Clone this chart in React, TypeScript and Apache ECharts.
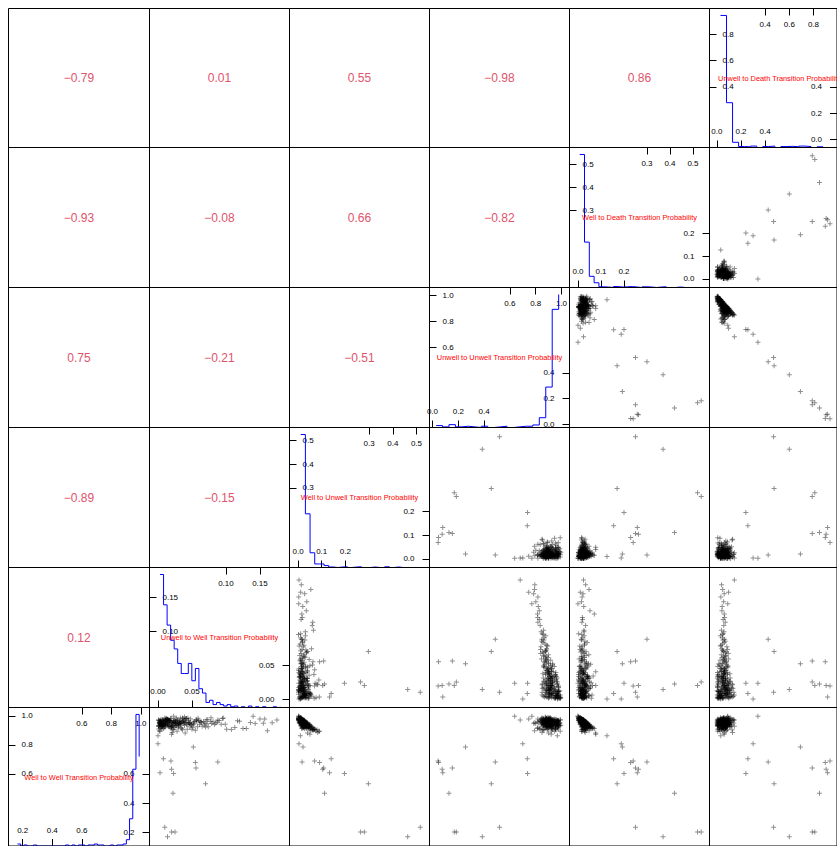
import React, { useEffect, useRef } from "react";
import * as echarts from "echarts";

// Variable order along the diagonal (bottom-left to top-right)
const variableNames = [
  "Well to Well Transition Probability",
  "Unwell to Well Transition Probability",
  "Well to Unwell Transition Probability",
  "Unwell to Unwell Transition Probability",
  "Well to Death Transition Probability",
  "Unwell to Death Transition Probability",
];

// Posterior samples of each transition probability
const wellToWell = [
  0.965, 0.966, 0.958, 0.952, 0.957, 0.985, 0.936, 0.944, 0.957, 0.974,
  0.936, 0.94, 0.966, 0.962, 0.93, 0.956, 0.949, 0.982, 0.926, 0.96,
  0.929, 0.925, 0.95, 0.959, 0.957, 0.965, 0.922, 0.972, 0.926, 0.943,
  0.975, 0.952, 0.948, 0.918, 0.909, 0.969, 0.948, 0.938, 0.971, 0.963,
  0.914, 0.968, 0.934, 0.925, 0.967, 0.936, 0.961, 0.957, 0.942, 0.953,
  0.909, 0.937, 0.973, 0.946, 0.955, 0.911, 0.979, 0.916, 0.951, 0.968,
  0.954, 0.929, 0.959, 0.907, 0.975, 0.949, 0.938, 0.979, 0.929, 0.962,
  0.957, 0.926, 0.95, 0.913, 0.962, 0.93, 0.962, 0.963, 0.898, 0.958,
  0.941, 0.986, 0.93, 0.922, 0.966, 0.948, 0.941, 0.972, 0.946, 0.942,
  0.921, 0.955, 0.968, 0.941, 0.932, 0.974, 0.955, 0.913, 0.96, 0.919,
  0.96, 0.948, 0.943, 0.958, 0.953, 0.941, 0.917, 0.947, 0.942, 0.95,
  0.946, 0.963, 0.904, 0.931, 0.968, 0.952, 0.952, 0.924, 0.971, 0.95,
  0.2, 0.2, 0.468, 0.167, 0.683, 0.234, 0.642, 0.609, 0.68, 0.604,
  0.808, 0.705, 0.533, 0.786, 0.864, 0.873, 0.883, 0.997, 0.972, 0.69,
  0.633, 0.997, 0.979, 0.895,
  0.971, 0.967, 0.947, 0.985, 0.939, 0.982, 0.93, 0.977, 0.95, 0.959,
  0.908, 0.958, 0.973, 0.974, 0.918, 0.967, 0.984, 0.942, 0.931, 0.937,
  0.955, 0.986, 0.948, 0.949, 0.965, 0.886, 0.957, 0.957, 0.98, 0.937,
  0.974, 0.921, 0.929, 0.975, 0.966, 0.962, 0.956, 0.902, 0.977, 0.928,
  0.986, 0.937, 0.954, 0.987, 0.927, 0.964, 0.938, 0.916, 0.969, 0.975,
  0.949, 0.945, 0.984, 0.896, 0.952, 0.95, 0.972, 0.933, 0.97, 0.941,
  0.966, 0.938, 0.992, 0.935, 0.936, 0.956, 0.968, 0.894, 0.951, 0.986,
  0.943, 0.98, 0.912, 0.964, 0.958, 0.945, 0.961, 0.971, 0.908, 0.972,
  0.935, 0.947, 0.971, 0.974, 0.934, 0.931, 0.983, 0.946, 0.91, 0.946,
  0.982, 0.955, 0.927, 0.972, 0.925, 0.969, 0.954, 0.905, 0.949, 0.981,
];
const unwellToWell = [
  0.004, 0.011, 0.019, 0.007, 0.025, 0.033, 0.002, 0.015, 0.041, 0.028,
  0.009, 0.052, 0.017, 0.036, 0.006, 0.063, 0.022, 0.013, 0.047, 0.031,
  0.001, 0.074, 0.038, 0.01, 0.026, 0.057, 0.005, 0.088, 0.02, 0.044,
  0.014, 0.069, 0.003, 0.034, 0.101, 0.024, 0.012, 0.049, 0.029, 0.081,
  0.008, 0.06, 0.039, 0.016, 0.117, 0.027, 0.054, 0.003, 0.093, 0.021,
  0.043, 0.012, 0.071, 0.031, 0.136, 0.006, 0.048, 0.018, 0.085, 0.037,
  0.002, 0.065, 0.023, 0.108, 0.014, 0.046, 0.009, 0.15, 0.03, 0.077,
  0.019, 0.058, 0.005, 0.125, 0.035, 0.011, 0.067, 0.026, 0.161, 0.04,
  0.004, 0.096, 0.022, 0.051, 0.015, 0.143, 0.033, 0.007, 0.072, 0.029,
  0.113, 0.045, 0.017, 0.083, 0.001, 0.056, 0.024, 0.13, 0.038, 0.01,
  0.062, 0.032, 0.099, 0.013, 0.168, 0.042, 0.02, 0.079, 0.008, 0.053,
  0.027, 0.12, 0.036, 0.016, 0.09, 0.047, 0.003, 0.07, 0.025, 0.155,
  0.025, 0.02, 0.022, 0.014, 0.088, 0.01, 0.056, 0.003, 0.055, 0.023,
  0.0, 0.008, 0.07, 0.052, 0.0, 0.02, 0.04, 0.023, 0.175, 0.019,
  0.02, 0.14, 0.157, 0.003,
  0.006, 0.018, 0.003, 0.027, 0.011, 0.042, 0.001, 0.015, 0.034, 0.008,
  0.023, 0.052, 0.004, 0.013, 0.03, 0.002, 0.019, 0.061, 0.007, 0.025,
  0.038, 0.01, 0.003, 0.047, 0.016, 0.021, 0.005, 0.032, 0.012, 0.068,
  0.001, 0.024, 0.009, 0.04, 0.017, 0.003, 0.029, 0.055, 0.011, 0.006,
  0.036, 0.014, 0.002, 0.078, 0.02, 0.008, 0.031, 0.004, 0.045, 0.013,
  0.022, 0.009, 0.059, 0.002, 0.017, 0.033, 0.006, 0.026, 0.012, 0.049,
  0.003, 0.02, 0.039, 0.007, 0.015, 0.087, 0.001, 0.028, 0.01, 0.044,
  0.005, 0.019, 0.035, 0.012, 0.064, 0.002, 0.023, 0.008, 0.05, 0.016,
  0.004, 0.03, 0.011, 0.073, 0.021, 0.006, 0.041, 0.014, 0.001, 0.026,
  0.095, 0.009, 0.018, 0.057, 0.003, 0.032, 0.013, 0.022, 0.007, 0.037,
];
const wellToUnwell = [
  0.014, 0.022, 0.009, 0.031, 0.017, 0.012, 0.026, 0.041, 0.019, 0.007,
  0.035, 0.015, 0.023, 0.011, 0.048, 0.028, 0.016, 0.005, 0.033, 0.02,
  0.013, 0.057, 0.025, 0.01, 0.038, 0.018, 0.029, 0.014, 0.044, 0.021,
  0.002, 0.036, 0.024, 0.016, 0.065, 0.012, 0.03, 0.019, 0.027, 0.009,
  0.052, 0.017, 0.034, 0.022, 0.013, 0.04, 0.026, 0.006, 0.031, 0.018,
  0.07, 0.023, 0.011, 0.036, 0.02, 0.028, 0.015, 0.045, 0.019, 0.01,
  0.032, 0.024, 0.014, 0.06, 0.021, 0.017, 0.039, 0.003, 0.027, 0.022,
  0.012, 0.047, 0.03, 0.016, 0.025, 0.034, 0.013, 0.02, 0.054, 0.018,
  0.029, 0.011, 0.042, 0.023, 0.015, 0.037, 0.021, 0.002, 0.033, 0.026,
  0.062, 0.016, 0.028, 0.019, 0.043, 0.012, 0.024, 0.035, 0.017, 0.05,
  0.022, 0.01, 0.031, 0.027, 0.014, 0.039, 0.02, 0.025, 0.046, 0.013,
  0.03, 0.018, 0.067, 0.023, 0.011, 0.032, 0.021, 0.041, 0.016, 0.028,
  0.264, 0.28, 0.112, 0.463, 0.017, 0.516, 0.108, 0.133, 0.091, 0.196,
  0.004, 0.14, 0.297, 0.021, 0.01, 0.05, 0.04, 0.003, 0.004, 0.07,
  0.104, 0.003, 0.011, 0.09,
  0.018, 0.006, 0.034, 0.011, 0.025, 0.003, 0.046, 0.015, 0.009, 0.028,
  0.072, 0.012, 0.021, 0.004, 0.038, 0.016, 0.007, 0.03, 0.055, 0.013,
  0.024, 0.002, 0.019, 0.041, 0.01, 0.083, 0.027, 0.005, 0.017, 0.036,
  0.008, 0.022, 0.049, 0.014, 0.003, 0.031, 0.02, 0.063, 0.009, 0.026,
  0.012, 0.044, 0.017, 0.005, 0.033, 0.023, 0.01, 0.058, 0.015, 0.002,
  0.039, 0.021, 0.011, 0.076, 0.028, 0.006, 0.018, 0.035, 0.013, 0.05,
  0.008, 0.024, 0.004, 0.042, 0.016, 0.029, 0.011, 0.088, 0.019, 0.003,
  0.032, 0.014, 0.047, 0.022, 0.007, 0.037, 0.012, 0.026, 0.061, 0.009,
  0.02, 0.04, 0.005, 0.017, 0.03, 0.052, 0.01, 0.025, 0.068, 0.015,
  0.002, 0.034, 0.019, 0.008, 0.045, 0.023, 0.013, 0.08, 0.027, 0.006,
];
const unwellToUnwell = [
  0.969, 0.973, 0.914, 0.912, 0.931, 0.908, 0.994, 0.893, 0.923, 0.899,
  0.958, 0.9, 0.977, 0.876, 0.977, 0.88, 0.969, 0.883, 0.884, 0.966,
  0.949, 0.885, 0.909, 0.927, 0.862, 0.916, 0.971, 0.848, 0.895, 0.923,
  0.951, 0.853, 0.902, 0.919, 0.861, 0.91, 0.986, 0.86, 0.916, 0.873,
  0.921, 0.878, 0.956, 0.901, 0.831, 0.934, 0.873, 0.966, 0.878, 0.881,
  0.893, 0.975, 0.878, 0.892, 0.82, 0.954, 0.944, 0.933, 0.846, 0.855,
  0.987, 0.898, 0.917, 0.835, 0.912, 0.911, 0.904, 0.817, 0.918, 0.841,
  0.977, 0.886, 0.957, 0.814, 0.894, 0.943, 0.839, 0.96, 0.791, 0.898,
  0.878, 0.851, 0.933, 0.87, 0.918, 0.801, 0.96, 0.964, 0.881, 0.882,
  0.817, 0.923, 0.907, 0.856, 0.987, 0.886, 0.875, 0.828, 0.897, 0.969,
  0.863, 0.925, 0.842, 0.906, 0.793, 0.89, 0.923, 0.886, 0.899, 0.898,
  0.902, 0.816, 0.954, 0.922, 0.866, 0.869, 0.952, 0.876, 0.928, 0.784,
  0.185, 0.169, 0.128, 0.386, 0.487, 0.52, 0.154, 0.08, 0.047, 0.737,
  0.7, 0.735, 0.456, 0.256, 0.968, 0.92, 0.9, 0.637, 0.68, 0.044,
  0.075, 0.77, 0.746, 0.99,
  0.923, 0.948, 0.895, 0.915, 0.98, 0.881, 0.954, 0.862, 0.945, 0.926,
  0.889, 0.932, 0.859, 0.936, 0.898, 0.97, 0.884, 0.896, 0.91, 0.969,
  0.903, 0.876, 0.978, 0.861, 0.944, 0.849, 0.933, 0.933, 0.909, 0.864,
  0.99, 0.929, 0.885, 0.935, 0.918, 0.908, 0.959, 0.864, 0.958, 0.849,
  0.91, 0.886, 0.941, 0.893, 0.905, 0.969, 0.859, 0.958, 0.892, 0.901,
  0.963, 0.939, 0.845, 0.924, 0.865, 0.926, 0.991, 0.905, 0.896, 0.915,
  0.869, 0.925, 0.874, 0.976, 0.915, 0.863, 0.9, 0.946, 0.85, 0.898,
  0.962, 0.897, 0.954, 0.881, 0.863, 0.949, 0.883, 0.932, 0.93, 0.851,
  0.918, 0.924, 0.975, 0.838, 0.915, 0.873, 0.92, 0.914, 0.975, 0.871,
  0.858, 0.906, 0.975, 0.877, 0.886, 0.915, 0.95, 0.852, 0.903, 0.902,
];
const wellToDeath = [
  0.021, 0.012, 0.033, 0.017, 0.026, 0.003, 0.038, 0.015, 0.024, 0.019,
  0.029, 0.045, 0.011, 0.027, 0.022, 0.016, 0.035, 0.013, 0.041, 0.02,
  0.058, 0.018, 0.025, 0.031, 0.005, 0.017, 0.049, 0.014, 0.03, 0.036,
  0.023, 0.012, 0.028, 0.066, 0.026, 0.019, 0.022, 0.043, 0.002, 0.028,
  0.034, 0.015, 0.032, 0.053, 0.02, 0.024, 0.013, 0.037, 0.027, 0.029,
  0.021, 0.04, 0.016, 0.018, 0.025, 0.061, 0.006, 0.039, 0.03, 0.022,
  0.014, 0.047, 0.027, 0.033, 0.004, 0.034, 0.023, 0.018, 0.044, 0.016,
  0.031, 0.027, 0.02, 0.071, 0.013, 0.036, 0.025, 0.017, 0.048, 0.024,
  0.03, 0.003, 0.028, 0.055, 0.019, 0.015, 0.038, 0.026, 0.021, 0.032,
  0.017, 0.029, 0.004, 0.04, 0.025, 0.014, 0.021, 0.052, 0.023, 0.031,
  0.018, 0.042, 0.026, 0.015, 0.033, 0.02, 0.063, 0.028, 0.012, 0.037,
  0.024, 0.019, 0.029, 0.046, 0.021, 0.016, 0.027, 0.035, 0.013, 0.022,
  0.536, 0.52, 0.42, 0.37, 0.3, 0.25, 0.25, 0.258, 0.229, 0.2,
  0.188, 0.155, 0.17, 0.193, 0.126, 0.077, 0.077, 0.0, 0.024, 0.24,
  0.263, 0.0, 0.01, 0.015,
  0.011, 0.027, 0.019, 0.004, 0.036, 0.015, 0.024, 0.008, 0.041, 0.013,
  0.02, 0.03, 0.006, 0.022, 0.044, 0.017, 0.009, 0.028, 0.014, 0.05,
  0.021, 0.012, 0.033, 0.01, 0.025, 0.031, 0.016, 0.038, 0.003, 0.027,
  0.018, 0.057, 0.022, 0.011, 0.031, 0.007, 0.024, 0.035, 0.014, 0.046,
  0.002, 0.019, 0.029, 0.008, 0.04, 0.013, 0.052, 0.026, 0.016, 0.023,
  0.012, 0.034, 0.005, 0.028, 0.02, 0.044, 0.01, 0.032, 0.017, 0.009,
  0.026, 0.038, 0.004, 0.023, 0.048, 0.015, 0.021, 0.018, 0.03, 0.011,
  0.025, 0.006, 0.041, 0.014, 0.035, 0.018, 0.027, 0.003, 0.031, 0.019,
  0.045, 0.013, 0.024, 0.009, 0.036, 0.017, 0.007, 0.029, 0.022, 0.039,
  0.016, 0.011, 0.054, 0.02, 0.03, 0.008, 0.033, 0.015, 0.024, 0.013,
];
const unwellToDeath = [
  0.027, 0.016, 0.067, 0.081, 0.044, 0.059, 0.004, 0.092, 0.036, 0.073,
  0.033, 0.048, 0.006, 0.088, 0.017, 0.057, 0.009, 0.104, 0.069, 0.003,
  0.05, 0.041, 0.053, 0.063, 0.112, 0.027, 0.024, 0.064, 0.085, 0.033,
  0.035, 0.078, 0.095, 0.047, 0.038, 0.066, 0.002, 0.091, 0.055, 0.046,
  0.071, 0.062, 0.005, 0.083, 0.052, 0.039, 0.073, 0.031, 0.029, 0.098,
  0.064, 0.013, 0.051, 0.077, 0.044, 0.04, 0.008, 0.049, 0.069, 0.108,
  0.011, 0.037, 0.06, 0.057, 0.074, 0.043, 0.087, 0.033, 0.052, 0.082,
  0.004, 0.056, 0.038, 0.061, 0.071, 0.046, 0.094, 0.014, 0.048, 0.062,
  0.118, 0.053, 0.045, 0.079, 0.067, 0.056, 0.007, 0.029, 0.047, 0.089,
  0.07, 0.032, 0.076, 0.061, 0.012, 0.058, 0.101, 0.042, 0.065, 0.021,
  0.075, 0.043, 0.059, 0.081, 0.039, 0.068, 0.057, 0.035, 0.093, 0.049,
  0.071, 0.064, 0.01, 0.062, 0.044, 0.084, 0.045, 0.054, 0.047, 0.061,
  0.79, 0.811, 0.85, 0.6, 0.425, 0.47, 0.79, 0.917, 0.898, 0.24,
  0.3, 0.257, 0.474, 0.692, 0.032, 0.06, 0.06, 0.34, 0.145, 0.937,
  0.905, 0.09, 0.097, 0.007,
  0.071, 0.034, 0.102, 0.058, 0.009, 0.077, 0.045, 0.123, 0.021, 0.066,
  0.088, 0.016, 0.137, 0.051, 0.072, 0.028, 0.097, 0.043, 0.083, 0.006,
  0.059, 0.114, 0.019, 0.092, 0.04, 0.13, 0.062, 0.035, 0.079, 0.068,
  0.009, 0.047, 0.106, 0.025, 0.065, 0.089, 0.012, 0.081, 0.031, 0.145,
  0.054, 0.1, 0.057, 0.029, 0.075, 0.023, 0.11, 0.038, 0.063, 0.086,
  0.015, 0.052, 0.096, 0.074, 0.118, 0.041, 0.003, 0.069, 0.092, 0.036,
  0.128, 0.055, 0.087, 0.017, 0.07, 0.05, 0.099, 0.026, 0.14, 0.058,
  0.033, 0.084, 0.011, 0.107, 0.073, 0.049, 0.094, 0.06, 0.02, 0.133,
  0.078, 0.046, 0.014, 0.089, 0.064, 0.121, 0.039, 0.072, 0.024, 0.103,
  0.047, 0.085, 0.007, 0.066, 0.111, 0.053, 0.037, 0.126, 0.09, 0.061,
];
const samples = [wellToWell, unwellToWell, wellToUnwell, unwellToUnwell, wellToDeath, unwellToDeath];

// Pairwise correlations, one row per variable against the earlier ones
const corrUnwellToWell = [0.12];
const corrWellToUnwell = [-0.89, -0.15];
const corrUnwellToUnwell = [0.75, -0.21, -0.51];
const corrWellToDeath = [-0.93, -0.08, 0.66, -0.82];
const corrUnwellToDeath = [-0.79, 0.01, 0.55, -0.98, 0.86];
const correlations: number[][] = [[], corrUnwellToWell, corrWellToUnwell, corrUnwellToUnwell, corrWellToDeath, corrUnwellToDeath];

// Histogram of each variable: first break, bin width, counts per bin
const histStart = [0.165, 0.003, 0.0114, 0.028, 0.0074, 0.03];
const histWidth = [0.02166, 0.0052, 0.0197, 0.05, 0.0209, 0.05];
const wellToWellHist = [6, 0, 3, 0, 0, 3, 0, 0, 0, 0, 0, 0, 0, 0, 0, 3, 0, 3, 0, 3, 3, 0, 3, 3, 6, 3, 3, 0, 0, 3, 0, 3, 3, 6, 19, 82, 231, 396, 269];
const unwellToWellHist = [184, 142, 114, 93, 81, 61, 47, 47, 61, 37, 54, 26, 20, 7, 10, 4, 7, 4, 2, 4, 1, 2, 0, 1, 0, 2, 0, 1, 0, 1, 0, 0, 1, 0, 1];
const wellToUnwellHist = [560, 226, 62, 15, 15, 8, 2, 0, 2, 3, 0, 2, 3, 0, 0, 2, 0, 0, 3, 0, 2, 0, 0, 0, 0, 2];
const unwellToUnwellHist = [6, 2, 9, 2, 4, 2, 0, 4, 0, 2, 4, 0, 2, 4, 4, 8, 31, 128, 374, 421];
const wellToDeathHist = [560, 191, 47, 20, 3, 2, 0, 4, 2, 3, 4, 2, 0, 3, 2, 0, 2, 3, 0, 0, 2, 0, 0, 0, 0, 2];
const unwellToDeathHist = [560, 190, 22, 4, 3, 6, 0, 4, 6, 0, 4, 5, 3, 6, 4, 0, 3, 5];
const histCounts = [wellToWellHist, unwellToWellHist, wellToUnwellHist, unwellToUnwellHist, wellToDeathHist, unwellToDeathHist];

// Axis extents and tick labels of each variable
const axisMin = [0.104, -0.0125, -0.036, -0.023, -0.037, -0.061];
const axisMax = [1.058, 0.1935, 0.555, 1.062, 0.572, 0.995];
const lowTicks = [[0.2, 0.4, 0.6], [0, 0.05], [0, 0.1, 0.2], [0, 0.2, 0.4], [0, 0.1, 0.2], [0, 0.2, 0.4]];
const highTicks = [[0.6, 0.8, 1.0], [0.1, 0.15], [0.3, 0.4, 0.5], [0.6, 0.8, 1.0], [0.3, 0.4, 0.5], [0.4, 0.6, 0.8]];
const tickDecimals = [1, 2, 1, 1, 1, 1];

// Panel layout
const colEdges = [8.5, 149.5, 289.5, 429.5, 569.5, 709.5, 849.5];
const rowEdges = [8.5, 147.5, 287.5, 427.5, 567.5, 707.5, 847.5];

const FONT = "'Liberation Sans', Arial, Helvetica, sans-serif";
const PLUS = "path://M2,0H3V2H5V3H3V5H2V3H0V2H2Z";

function formatCorr(v: number) {
  return v.toFixed(2).replace("-", "\u2212");
}

function buildOption() {
  const grid: any[] = [];
  const xAxis: any[] = [];
  const yAxis: any[] = [];
  const series: any[] = [];
  const graphic: any[] = [];

  for (let r = 0; r < 6; r++) {
    for (let c = 0; c < 6; c++) {
      const left = colEdges[c];
      const top = rowEdges[r];
      const width = colEdges[c + 1] - left;
      const height = rowEdges[r + 1] - top;
      const gridIndex = grid.length;
      grid.push({
        left, top, width, height,
        show: true, borderColor: "#000", borderWidth: 1,
        backgroundColor: "transparent", z: 5,
      });
      const vx = c;
      const vy = 5 - r;
      const cx = left + width / 2;
      const cy = top + height / 2;

      if (vx < vy) {
        xAxis.push({ gridIndex, type: "value", show: false, min: 0, max: 1 });
        yAxis.push({ gridIndex, type: "value", show: false, min: 0, max: 1 });
        graphic.push({
          type: "text", x: cx, y: cy, silent: true,
          style: {
            text: formatCorr(correlations[vy][vx]),
            fill: "#DF536B", font: `12px ${FONT}`,
            textAlign: "center", textVerticalAlign: "middle",
            align: "center", verticalAlign: "middle",
          },
        });
      } else if (vx > vy) {
        const xi = xAxis.length;
        xAxis.push({ gridIndex, type: "value", show: false, min: axisMin[vx], max: axisMax[vx], axisLine: { onZero: false } });
        const yi = yAxis.length;
        yAxis.push({ gridIndex, type: "value", show: false, min: axisMin[vy], max: axisMax[vy], axisLine: { onZero: false } });
        series.push({
          type: "scatter", xAxisIndex: xi, yAxisIndex: yi,
          data: samples[vx].map((x, i) => [x, samples[vy][i]]),
          symbol: PLUS, symbolSize: 5,
          itemStyle: { color: "rgba(0,0,0,0.55)" },
          silent: true, clip: true, z: 2,
        });
      } else {
        const v = vx;
        const d = tickDecimals[v];
        const axisCommon = (ticks: number[], margin: number) => ({
          gridIndex, type: "value", min: axisMin[v], max: axisMax[v],
          axisLine: { show: false, onZero: false },
          splitLine: { show: false },
          axisTick: { show: true, inside: true, length: 7, customValues: ticks, lineStyle: { color: "#000", width: 1 } },
          axisLabel: {
            show: true, inside: true, margin, customValues: ticks,
            formatter: (x: number) => x.toFixed(d),
            fontSize: 8, color: "#000", fontFamily: FONT,
            showMinLabel: true, showMaxLabel: true, hideOverlap: false,
          },
        });
        const bx = xAxis.length;
        xAxis.push({ ...axisCommon(lowTicks[v], 12), position: "bottom" });
        xAxis.push({ ...axisCommon(highTicks[v], 12), position: "top" });
        yAxis.push({ ...axisCommon(highTicks[v], 13), position: "left" });
        yAxis.push({ ...axisCommon(lowTicks[v], 15), position: "right" });
        const counts = histCounts[v];
        const hy = yAxis.length;
        yAxis.push({ gridIndex, type: "value", show: false, min: 0, max: Math.max(...counts) / 0.95, axisLine: { onZero: false } });
        series.push({
          type: "line", xAxisIndex: bx, yAxisIndex: hy, step: "end",
          symbol: "none", showSymbol: false,
          data: counts.map((n, i) => [histStart[v] + i * histWidth[v], n]),
          lineStyle: { color: "#0000FF", width: 1 },
          silent: true, clip: true, z: 2,
        });
        graphic.push({
          type: "text", x: cx, y: cy, silent: true, z: 10,
          style: {
            text: variableNames[v], fill: "#FF0000", font: `7.4px ${FONT}`,
            textAlign: "center", textVerticalAlign: "middle",
            align: "center", verticalAlign: "middle",
          },
        });
      }
    }
  }

  return {
    animation: false,
    backgroundColor: "#fff",
    textStyle: { fontFamily: FONT },
    grid, xAxis, yAxis, series, graphic,
  };
}

export default function App() {
  const ref = useRef<HTMLDivElement>(null);
  useEffect(() => {
    if (!ref.current) return;
    const chart = echarts.init(ref.current, null, { renderer: "svg" });
    chart.setOption(buildOption() as any);
    return () => chart.dispose();
  }, []);
  return (
    <div
      ref={ref}
      style={{ position: "absolute", left: 0, top: 0, width: 837, height: 846, background: "#fff" }}
    />
  );
}
